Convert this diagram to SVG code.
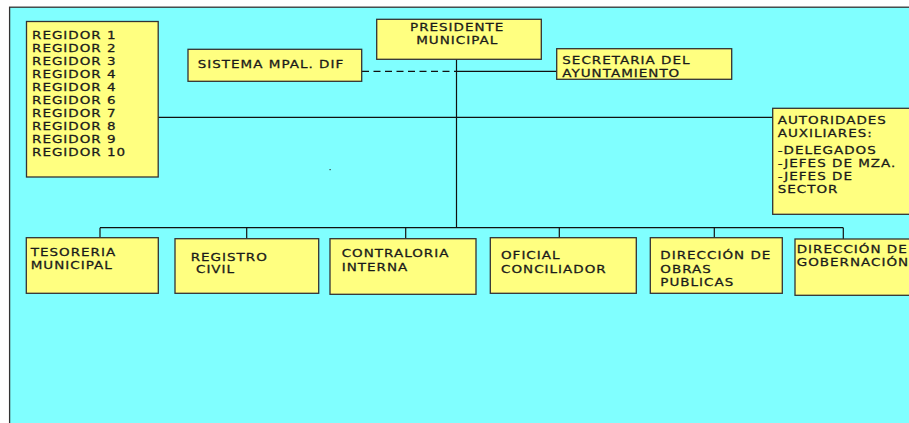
<svg xmlns="http://www.w3.org/2000/svg" width="909" height="423" viewBox="0 0 909 423">
<style>
.box{fill:#ffff80;stroke:#333;stroke-width:1.3}
.t{font-family:"DejaVu Sans","Liberation Sans",sans-serif;font-size:10px;fill:#1a1a1a;stroke:#1a1a1a;stroke-width:0.25;letter-spacing:0.75px}
.c{fill:none;stroke:#111;stroke-width:1.2}
.d{stroke-dasharray:7 4.5}
</style>
<rect x="0" y="0" width="909" height="423" fill="#ffffff"/>
<rect x="9.6" y="7.2" width="912" height="430" fill="#80ffff" stroke="#333" stroke-width="1.3"/>
<rect x="329.5" y="169" width="1.2" height="1.2" fill="#333"/>
<g id="connectors">
<line class="c d" x1="362" y1="71.3" x2="456" y2="71.3"/>
<line class="c" x1="456" y1="71.3" x2="557" y2="71.3"/>
<line class="c" x1="158" y1="117.3" x2="773" y2="117.3"/>
<line class="c" x1="456.5" y1="59.3" x2="456.5" y2="227.7"/>
<line class="c" x1="100" y1="227.7" x2="843.3" y2="227.7"/>
<line class="c" x1="100" y1="227.7" x2="100" y2="237.7"/>
<line class="c" x1="246.7" y1="227.7" x2="246.7" y2="238.7"/>
<line class="c" x1="405.7" y1="227.7" x2="405.7" y2="238.7"/>
<line class="c" x1="559.3" y1="227.7" x2="559.3" y2="237.7"/>
<line class="c" x1="714.3" y1="227.7" x2="714.3" y2="237.7"/>
<line class="c" x1="843.3" y1="227.7" x2="843.3" y2="239"/>
</g>
<g id="regidores">
<rect class="box" x="26.5" y="21.5" width="131.7" height="155.5"/>
<text class="t" transform="matrix(1.35 0 0 1 32 38.7)"><tspan x="0" y="0">REGIDOR 1</tspan><tspan x="0" y="13">REGIDOR 2</tspan><tspan x="0" y="26">REGIDOR 3</tspan><tspan x="0" y="39">REGIDOR 4</tspan><tspan x="0" y="52">REGIDOR 4</tspan><tspan x="0" y="65">REGIDOR 6</tspan><tspan x="0" y="78">REGIDOR 7</tspan><tspan x="0" y="91">REGIDOR 8</tspan><tspan x="0" y="104">REGIDOR 9</tspan><tspan x="0" y="117">REGIDOR 10</tspan></text>
</g>
<g id="dif">
<rect class="box" x="188" y="49.3" width="173.7" height="32"/>
<text class="t" transform="matrix(1.35 0 0 1 197.7 67.8)">SISTEMA MPAL. DIF</text>
</g>
<g id="presidente">
<rect class="box" x="376.7" y="19.3" width="164.6" height="40"/>
<text class="t" text-anchor="middle" transform="matrix(1.35 0 0 1 457.2 30.7)"><tspan x="0" y="0">PRESIDENTE</tspan><tspan x="0" y="13.3">MUNICIPAL</tspan></text>
</g>
<g id="secretaria">
<rect class="box" x="556.7" y="48.7" width="175" height="30.6"/>
<text class="t" transform="matrix(1.35 0 0 1 562.3 64.3)"><tspan x="0" y="0">SECRETARIA DEL</tspan><tspan x="0" y="13">AYUNTAMIENTO</tspan></text>
</g>
<g id="autoridades">
<rect class="box" x="772.7" y="108.3" width="150" height="106"/>
<text class="t" transform="matrix(1.35 0 0 1 777.7 124)"><tspan x="0" y="0">AUTORIDADES</tspan><tspan x="0" y="13.3">AUXILIARES:</tspan><tspan x="0" y="30">-DELEGADOS</tspan><tspan x="0" y="43.3">-JEFES DE MZA.</tspan><tspan x="0" y="56.3">-JEFES DE</tspan><tspan x="0" y="69.3">SECTOR</tspan></text>
</g>
<g id="tesoreria">
<rect class="box" x="26.3" y="237.7" width="132" height="55.6"/>
<text class="t" transform="matrix(1.35 0 0 1 30.7 255.7)"><tspan x="0" y="0">TESORERIA</tspan><tspan x="0" y="13">MUNICIPAL</tspan></text>
</g>
<g id="registro">
<rect class="box" x="175" y="238.7" width="143.7" height="54.6"/>
<text class="t" transform="matrix(1.35 0 0 1 190.7 260.7)"><tspan x="0" y="0">REGISTRO</tspan><tspan x="3.9" y="12.6">CIVIL</tspan></text>
</g>
<g id="contraloria">
<rect class="box" x="330" y="238.7" width="146" height="55.6"/>
<text class="t" transform="matrix(1.35 0 0 1 341.7 257.3)"><tspan x="0" y="0">CONTRALORIA</tspan><tspan x="0" y="13.4">INTERNA</tspan></text>
</g>
<g id="oficial">
<rect class="box" x="490.3" y="237.7" width="146" height="55.6"/>
<text class="t" transform="matrix(1.35 0 0 1 501 259)"><tspan x="0" y="0">OFICIAL</tspan><tspan x="0" y="13.7">CONCILIADOR</tspan></text>
</g>
<g id="obras">
<rect class="box" x="650.3" y="237.7" width="132" height="55.6"/>
<text class="t" transform="matrix(1.35 0 0 1 660.3 259.3)"><tspan x="0" y="0">DIRECCIÓN DE</tspan><tspan x="0" y="13.4">OBRAS</tspan><tspan x="0" y="26.4">PUBLICAS</tspan></text>
</g>
<g id="gobernacion">
<rect class="box" x="795" y="239" width="130" height="56.3"/>
<text class="t" transform="matrix(1.35 0 0 1 796.7 252.7)"><tspan x="0" y="0">DIRECCIÓN DE</tspan><tspan x="0" y="13">GOBERNACIÓN</tspan></text>
</g>
</svg>
